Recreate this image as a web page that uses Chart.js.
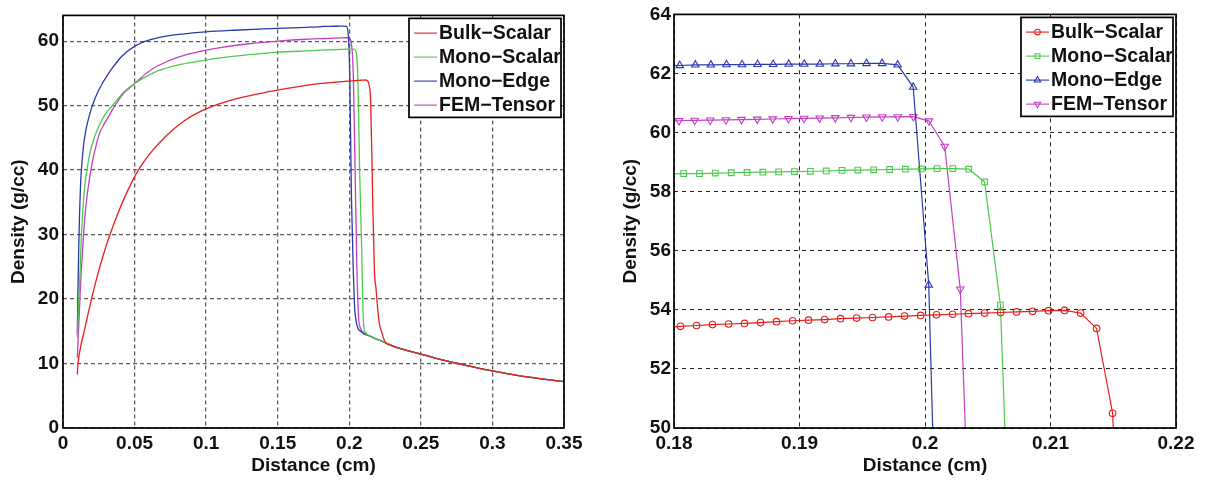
<!DOCTYPE html>
<html>
<head>
<meta charset="utf-8">
<script src="https://cdn.jsdelivr.net/npm/chart.js@4.4.1/dist/chart.umd.min.js"></script>
<style>
  html, body { margin: 0; padding: 0; background: #fff; }
  #wrap { position: relative; width: 1206px; height: 482px; }
  #leftChart { position: absolute; left: 0; top: 0; }
  #rightChart { position: absolute; left: 600px; top: 0; }
</style>
</head>
<body>
<div id="wrap">
  <canvas id="leftChart" width="600" height="482"></canvas>
  <canvas id="rightChart" width="606" height="482"></canvas>
</div>
<script>
// series names
const seriesNames = ["Bulk\u2212Scalar", "Mono\u2212Scalar", "Mono\u2212Edge", "FEM\u2212Tensor"];

// Bulk-Scalar (red)
const bulkX = [0.0100, 0.0105, 0.0125, 0.0148, 0.0172, 0.0198, 0.0228, 0.0260, 0.0295, 0.0330,
  0.0375, 0.0425, 0.0480, 0.0535, 0.0620, 0.0720, 0.0850, 0.1000, 0.1200, 0.1400, 0.1600, 0.1700,
  0.18052, 0.18180, 0.18307, 0.18435, 0.18562, 0.18690, 0.18817, 0.18945, 0.19072, 0.19200,
  0.19327, 0.19455, 0.19582, 0.19710, 0.19837, 0.19965, 0.20092, 0.20220, 0.20347, 0.20475,
  0.20602, 0.20730, 0.20857, 0.20985, 0.21112, 0.21240, 0.21367, 0.21495,
  0.21622, 0.21750, 0.21877, 0.22005, 0.22132, 0.22260, 0.22387, 0.22515];
const bulkY = [8.3, 10.0, 12.8, 15.0, 17.4, 19.9, 22.6, 25.2, 27.8, 30.1,
  32.8, 35.5, 38.1, 40.3, 42.9, 45.3, 47.7, 49.5, 51.0, 52.0, 52.8, 53.15,
  53.44, 53.47, 53.50, 53.52, 53.54, 53.57, 53.60, 53.63, 53.65, 53.67,
  53.70, 53.72, 53.74, 53.76, 53.79, 53.81, 53.83, 53.85, 53.87, 53.89,
  53.91, 53.93, 53.95, 53.97, 53.98, 53.89, 53.37, 50.5,
  37.0, 24.8, 21.4, 18.0, 15.85, 14.9, 13.95, 13.3];

// Mono-Scalar (green)
const monoScalarX = [0.0100, 0.0105, 0.0111, 0.0116, 0.0122, 0.0128, 0.0138, 0.0151, 0.0167, 0.0186,
  0.0212, 0.0244, 0.0290, 0.0349, 0.0420, 0.0500, 0.0580, 0.0674, 0.0800, 0.0953, 0.1100, 0.1300, 0.1500, 0.1700,
  0.18077, 0.18203, 0.18329, 0.18456, 0.18582, 0.18708, 0.18834, 0.18960, 0.19087, 0.19213,
  0.19339, 0.19465, 0.19591, 0.19718, 0.19844, 0.19970, 0.20096, 0.20222, 0.20349, 0.20475, 0.20601,
  0.20727, 0.20853, 0.20979, 0.21105, 0.2150, 0.2200, 0.2250];
const monoScalarY = [14.0, 17.0, 20.0, 22.5, 26.0, 29.6, 33.5, 37.3, 40.0, 42.4,
  44.6, 46.5, 48.5, 50.1, 52.0, 53.4, 54.5, 55.5, 56.3, 56.9, 57.4, 57.9, 58.3, 58.5,
  58.61, 58.61, 58.63, 58.64, 58.65, 58.66, 58.67, 58.68, 58.69, 58.70,
  58.72, 58.73, 58.74, 58.75, 58.76, 58.77, 58.78, 58.78, 58.76, 58.33, 54.16,
  39.5, 29.0, 16.8, 14.9, 14.2, 13.7, 13.25];

// Mono-Edge (blue)
const monoEdgeX = [0.0100, 0.0105, 0.0110, 0.0116, 0.0123, 0.0132, 0.0142, 0.0158, 0.0174, 0.0195,
  0.0215, 0.0245, 0.0279, 0.0315, 0.0350, 0.0400, 0.0442, 0.0500, 0.0558, 0.0640, 0.0721, 0.0850,
  0.1000, 0.1200, 0.1400, 0.1600, 0.1700,
  0.18046, 0.18170, 0.18294, 0.18418, 0.18542, 0.18666, 0.18790, 0.18914, 0.19038, 0.19162,
  0.19286, 0.19410, 0.19534, 0.19658, 0.19782, 0.19906, 0.20030,
  0.20154, 0.20278, 0.20402, 0.20830, 0.2100, 0.2150, 0.2200, 0.2250];
const monoEdgeY = [14.7, 22.0, 28.0, 33.5, 38.0, 41.0, 43.5, 46.0, 47.6, 49.3,
  50.6, 52.2, 53.6, 54.9, 56.0, 57.4, 58.3, 59.2, 59.85, 60.4, 60.8, 61.15,
  61.45, 61.7, 61.9, 62.05, 62.15,
  62.27, 62.29, 62.29, 62.30, 62.30, 62.31, 62.31, 62.32, 62.32, 62.32,
  62.33, 62.33, 62.34, 62.34, 62.29, 61.54, 54.84,
  35.5, 24.5, 17.8, 14.9, 14.65, 14.2, 13.7, 13.25];

// FEM-Tensor (magenta)
const femTensorX = [0.0100, 0.0106, 0.0112, 0.0120, 0.0128, 0.0140, 0.0151, 0.0167, 0.0186, 0.0208,
  0.0233, 0.0255, 0.0279, 0.0315, 0.0349, 0.0419, 0.0500, 0.0580, 0.0674, 0.0800, 0.0953,
  0.1100, 0.1300, 0.1500, 0.1700,
  0.18040, 0.18165, 0.18289, 0.18414, 0.18538, 0.18663, 0.18787, 0.18912, 0.19036, 0.19161,
  0.19285, 0.19410, 0.19534, 0.19659, 0.19783, 0.19908, 0.20032, 0.20157, 0.20281,
  0.20406, 0.20530, 0.20655, 0.20780, 0.20904, 0.2150, 0.2200, 0.2250];
const femTensorY = [10.9, 14.0, 16.8, 21.0, 24.5, 28.8, 32.2, 35.8, 38.8, 41.6,
  44.0, 45.7, 46.8, 48.2, 49.5, 51.8, 53.4, 55.0, 56.3, 57.5, 58.4,
  59.0, 59.6, 60.0, 60.3,
  60.40, 60.41, 60.42, 60.43, 60.44, 60.45, 60.46, 60.47, 60.48, 60.49,
  60.50, 60.51, 60.52, 60.53, 60.53, 60.54, 60.39, 59.53, 54.70,
  40.0, 25.0, 16.9, 15.5, 15.0, 14.2, 13.7, 13.25];

// common tail behind the shock
const tailX = [0.23, 0.24, 0.25, 0.26, 0.27, 0.28, 0.29, 0.30, 0.31, 0.32, 0.33, 0.34, 0.35];
const tailY = [12.75, 12.05, 11.45, 10.85, 10.3, 9.8, 9.3, 8.85, 8.45, 8.05, 7.75, 7.45, 7.2];

// tick labels
const leftXTicks = [0, 0.05, 0.1, 0.15, 0.2, 0.25, 0.3, 0.35];
const leftYTicks = [0, 10, 20, 30, 40, 50, 60];
const rightXTicks = [0.18, 0.19, 0.2, 0.21, 0.22];
const rightYTicks = [50, 52, 54, 56, 58, 60, 62, 64];

const seriesColors = ["#e41f1c", "#4dc94d", "#2a3aa9", "#c23fc2"];
const seriesMarkers = ["circle", "rect", "triangle", "triangle"];
const markerRotation = [0, 0, 0, 180];
const markerRadius = [3.3, 4, 4.3, 4.3];

const FONT = "'Liberation Sans', Arial, Helvetica, sans-serif";

function toPoints(xs, ys) {
  const pts = xs.map((x, i) => ({ x: x, y: ys[i] }));
  tailX.forEach((x, i) => pts.push({ x: x, y: tailY[i] }));
  return pts;
}
const allSeries = [
  toPoints(bulkX, bulkY),
  toPoints(monoScalarX, monoScalarY),
  toPoints(monoEdgeX, monoEdgeY),
  toPoints(femTensorX, femTensorY)
];

function drawMarker(ctx, style, rot, r, x, y) {
  ctx.beginPath();
  if (style === "circle") {
    ctx.arc(x, y, r, 0, Math.PI * 2);
  } else if (style === "rect") {
    const s = r * Math.SQRT1_2;
    ctx.rect(x - s, y - s, 2 * s, 2 * s);
  } else {
    let a = rot * Math.PI / 180;
    ctx.moveTo(x + Math.sin(a) * r, y - Math.cos(a) * r);
    for (let k = 0; k < 2; k++) {
      a += Math.PI * 2 / 3;
      ctx.lineTo(x + Math.sin(a) * r, y - Math.cos(a) * r);
    }
  }
  ctx.closePath();
  ctx.stroke();
}

// box around the plot area
const framePlugin = {
  id: "frame",
  afterDatasetsDraw(chart) {
    const { ctx, chartArea: a } = chart;
    ctx.save();
    ctx.strokeStyle = "#000";
    ctx.lineWidth = 1.7;
    ctx.strokeRect(a.left, a.top, a.right - a.left, a.bottom - a.top);
    ctx.restore();
  }
};

// legend in the upper right corner of the plot area
const legendPlugin = {
  id: "boxLegend",
  afterDraw(chart) {
    const { ctx, chartArea: a } = chart;
    const w = 152, h = 99;
    const x0 = a.right - 3 - w, y0 = a.top + 3;
    ctx.save();
    ctx.fillStyle = "#fff";
    ctx.fillRect(x0, y0, w, h);
    ctx.strokeStyle = "#000";
    ctx.lineWidth = 1.7;
    ctx.strokeRect(x0, y0, w, h);
    ctx.font = "bold 19.5px " + FONT;
    ctx.textBaseline = "middle";
    chart.data.datasets.forEach((ds, i) => {
      const y = y0 + 14.7 + i * 24;
      ctx.strokeStyle = ds.borderColor;
      ctx.lineWidth = 1.1;
      ctx.beginPath();
      ctx.moveTo(x0 + 5, y);
      ctx.lineTo(x0 + 28, y);
      ctx.stroke();
      if (ds.pointRadius > 0) {
        drawMarker(ctx, ds.pointStyle, ds.pointRotation, ds.pointRadius * 0.85, x0 + 16.5, y);
      }
      ctx.fillStyle = "#111";
      ctx.fillText(ds.label, x0 + 30, y + 1);
    });
    ctx.restore();
  }
};

function makeScale(cfg) {
  return {
    type: "linear",
    min: cfg.min,
    max: cfg.max,
    afterBuildTicks: (s) => { s.ticks = cfg.ticks.map(v => ({ value: v })); },
    afterFit: (s) => {
      if (cfg.width) s.width = cfg.width;
      if (cfg.height) s.height = cfg.height;
    },
    ticks: {
      autoSkip: false,
      maxRotation: 0,
      padding: cfg.tickPad,
      color: "#111",
      font: { family: FONT, size: 19, weight: "bold" },
      callback: (v) => String(v)
    },
    grid: {
      drawTicks: false,
      color: cfg.gridColor,
      lineWidth: cfg.gridWidth
    },
    border: { display: false, dash: cfg.dash },
    title: {
      display: true,
      text: cfg.title,
      color: "#111",
      font: { family: FONT, size: 19, weight: "bold" },
      padding: cfg.titlePad
    }
  };
}

// left: whole profile
new Chart(document.getElementById("leftChart"), {
  type: "line",
  data: {
    datasets: allSeries.map((pts, i) => ({
      label: seriesNames[i],
      data: pts,
      borderColor: seriesColors[i],
      borderWidth: 1.3,
      pointRadius: 0,
      cubicInterpolationMode: "monotone",
      fill: false
    }))
  },
  options: {
    responsive: false,
    animation: false,
    devicePixelRatio: 1,
    layout: { padding: { left: 0, right: 36, top: 13, bottom: 0 } },
    plugins: { legend: { display: false }, tooltip: { enabled: false } },
    scales: {
      x: makeScale({ min: 0, max: 0.35, ticks: leftXTicks, height: 54, tickPad: 4,
        gridColor: "#5e5e5e", gridWidth: 1.3, dash: [4, 3],
        title: "Distance (cm)", titlePad: { top: 0, bottom: 5 } }),
      y: makeScale({ min: 0, max: 64, ticks: leftYTicks, width: 63, tickPad: 4,
        gridColor: "#5e5e5e", gridWidth: 1.3, dash: [4, 3],
        title: "Density (g/cc)", titlePad: { top: 7, bottom: 0 } })
    }
  },
  plugins: [framePlugin, legendPlugin]
});

// right: zoom on the shock front
new Chart(document.getElementById("rightChart"), {
  type: "line",
  data: {
    datasets: allSeries.map((pts, i) => ({
      label: seriesNames[i],
      data: pts,
      borderColor: seriesColors[i],
      borderWidth: 1.2,
      pointStyle: seriesMarkers[i],
      pointRotation: markerRotation[i],
      pointRadius: markerRadius[i],
      pointBorderWidth: 1.1,
      pointBorderColor: seriesColors[i],
      pointBackgroundColor: "rgba(0,0,0,0)",
      fill: false
    }))
  },
  options: {
    responsive: false,
    animation: false,
    devicePixelRatio: 1,
    layout: { padding: { left: 0, right: 30, top: 13, bottom: 0 } },
    plugins: { legend: { display: false }, tooltip: { enabled: false } },
    scales: {
      x: makeScale({ min: 0.18, max: 0.22, ticks: rightXTicks, height: 54, tickPad: 4,
        gridColor: "#222", gridWidth: 1, dash: [4, 4],
        title: "Distance (cm)", titlePad: { top: 0, bottom: 5 } }),
      y: makeScale({ min: 50, max: 64, ticks: rightYTicks, width: 74, tickPad: 3,
        gridColor: "#222", gridWidth: 1, dash: [4, 4],
        title: "Density (g/cc)", titlePad: { top: 19, bottom: 0 } })
    }
  },
  plugins: [framePlugin, legendPlugin]
});
</script>
</body>
</html>
